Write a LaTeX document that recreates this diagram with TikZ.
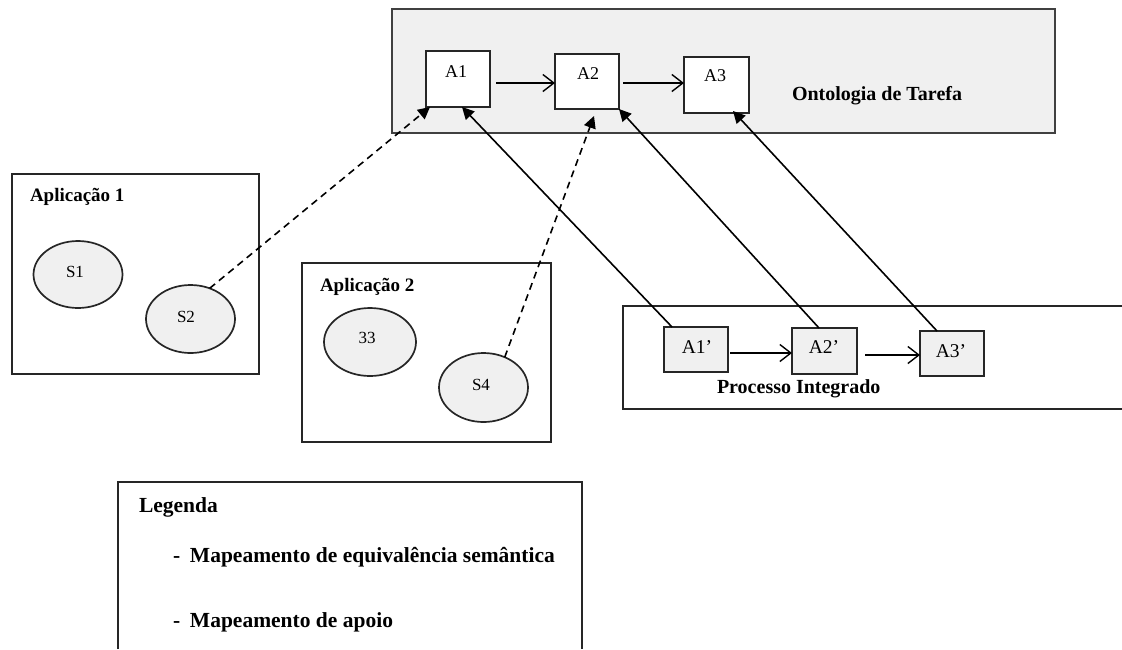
\documentclass[tikz,border=0pt]{standalone}
\usepackage{fontspec}
\setmainfont{Liberation Serif}
\usetikzlibrary{arrows.meta,calc,shapes.geometric}

\begin{document}
\begin{tikzpicture}[x=1pt,y=-1pt,
  every node/.style={inner sep=0pt, outer sep=0pt},
  frame/.style={draw=black!85, line width=1.7pt},
  task/.style={frame, rectangle, fill=white},
  ptask/.style={frame, rectangle, fill=black!6},
  service/.style={frame, ellipse, fill=black!6},
  grouptitle/.style={font=\fontsize{20}{23}\selectfont\bfseries, anchor=base west},
  legendtext/.style={font=\fontsize{21.5}{25}\selectfont\bfseries, anchor=base west},
  tasklabel/.style={font=\fontsize{18}{21}\selectfont, anchor=base},
  primelabel/.style={font=\fontsize{19.5}{22}\selectfont, anchor=base},
  servlabel/.style={font=\fontsize{17}{20}\selectfont, anchor=base},
  flow/.style={line width=1.6pt, -{Straight Barb[length=11pt,width=17pt,line width=1.4pt]}},
  equiv/.style={line width=1.6pt, -{Triangle[length=12pt,width=12pt]}},
  support/.style={equiv, dash pattern=on 7pt off 5pt},
]
\useasboundingbox (0,0) rectangle (1122,649);

% task ontology
\node[draw=black!75, line width=2pt, fill=black!6, rectangle,
      minimum width=663pt, minimum height=124pt] (ont) at (723.5,71) {};
\node[grouptitle] (ontt) at (792,100) {Ontologia de Tarefa};
\node[task, minimum width=64pt, minimum height=56pt] (a1) at (458,79) {};
\node[task, minimum width=64pt, minimum height=55pt] (a2) at (587,81.5) {};
\node[task, minimum width=65pt, minimum height=56pt] (a3) at (716.5,85) {};
\node[tasklabel] (a1t) at (456,77) {A1};
\node[tasklabel] (a2t) at (588,79) {A2};
\node[tasklabel] (a3t) at (715,81) {A3};

% application 1
\node[frame, rectangle, minimum width=247pt, minimum height=200pt] (app1) at (135.5,274) {};
\node[grouptitle, font=\fontsize{19}{22}\selectfont\bfseries] (app1t) at (30,201) {Aplicação 1};
\node[service, minimum width=89pt, minimum height=67pt] (s1) at (78,274.5) {};
\node[service, minimum width=89pt, minimum height=68pt] (s2) at (190.5,319) {};
\node[servlabel] (s1t) at (75,277) {S1};
\node[servlabel] (s2t) at (186,322) {S2};

% application 2
\node[frame, rectangle, minimum width=249pt, minimum height=179pt] (app2) at (426.5,352.5) {};
\node[grouptitle, font=\fontsize{19}{22}\selectfont\bfseries] (app2t) at (320,291) {Aplicação 2};
\node[service, minimum width=92pt, minimum height=68pt] (s3) at (370,342) {};
\node[service, minimum width=89pt, minimum height=69pt] (s4) at (483.5,387.5) {};
\node[servlabel] (s3t) at (367,343) {33};
\node[servlabel] (s4t) at (481,390) {S4};

% integrated process (open to the right)
\draw[frame] (1122,306) -- (623,306) -- (623,409) -- (1122,409);
\node[grouptitle] (proct) at (717,393) {Processo Integrado};
\node[ptask, minimum width=64pt, minimum height=45pt] (a1p) at (696,349.5) {};
\node[ptask, minimum width=65pt, minimum height=46pt] (a2p) at (824.5,351) {};
\node[ptask, minimum width=64pt, minimum height=45pt] (a3p) at (952,353.5) {};
\node[primelabel] (a1pt) at (697,353) {A1'};
\node[primelabel] (a2pt) at (824,353) {A2'};
\node[primelabel] (a3pt) at (951,357) {A3'};

% sequence flows
\draw[flow] ($(a1.east)+(6,4)$) -- ($(a2.west)+(0,1.5)$);
\draw[flow] ($(a2.east)+(4,1.5)$) -- ($(a3.west)+(0,-2)$);
\draw[flow] ($(a1p.east)+(2,3.5)$) -- ($(a2p.west)+(0,2)$);
\draw[flow] ($(a2p.east)+(8,4)$) -- ($(a3p.west)+(0,1.5)$);

% semantic equivalence mappings
\draw[equiv] ($(a1p.north west)+(8,0)$) -- ($(a1.south)+(4,0)$);
\draw[equiv] ($(a2p.north west)+(27,0)$) -- (a2.south east);
\draw[equiv] ($(a3p.north west)+(17,0)$) -- ($(a3.south east)+(-16,-2)$);

% support mappings
\draw[support] (s2.58) -- ($(a1.south west)+(4,0)$);
\draw[support] (s4.55) -- ($(a2.south)+(7,7)$);

% legend (open at the bottom)
\draw[frame] (118,649) -- (118,482) -- (582,482) -- (582,649);
\node[legendtext] (legt) at (139,512) {Legenda};
\node[legendtext] (leg1) at (173,562) {\makebox[17pt][l]{-}Mapeamento de equivalência semântica};
\node[legendtext] (leg2) at (173,627) {\makebox[17pt][l]{-}Mapeamento de apoio};
\end{tikzpicture}
\end{document}
